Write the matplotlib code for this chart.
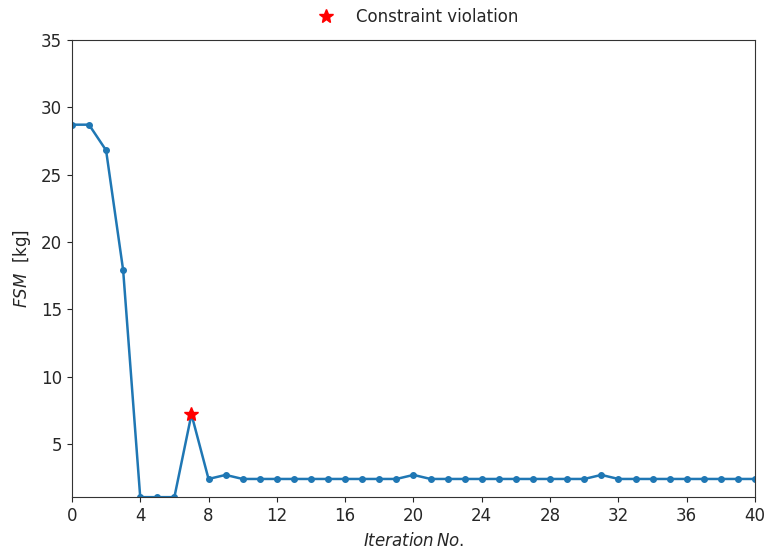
import matplotlib
matplotlib.use("Agg")
import matplotlib.pyplot as plt
import numpy as np

iterations = list(range(41))
fsm = [28.7, 28.7, 26.8, 17.9, 1.05, 1.05, 1.05, 7.2, 2.4, 2.7,
       2.4, 2.4, 2.4, 2.4, 2.4, 2.4, 2.4, 2.4, 2.4, 2.4,
       2.7, 2.4, 2.4, 2.4, 2.4, 2.4, 2.4, 2.4, 2.4, 2.4,
       2.4, 2.7, 2.4, 2.4, 2.4, 2.4, 2.4, 2.4, 2.4, 2.4, 2.4]
violation_iter = [7]
violation_val = [7.2]
xticks = list(range(0, 41, 4))

plt.rcParams['font.size'] = 12
plt.rcParams['text.color'] = '#262626'
plt.rcParams['axes.labelcolor'] = '#262626'
plt.rcParams['xtick.color'] = '#262626'
plt.rcParams['ytick.color'] = '#262626'
plt.rcParams['axes.edgecolor'] = '#333333'

fig = plt.figure(figsize=(7.65, 5.53), dpi=100)
ax = fig.add_axes([0.094, 0.101, 0.893, 0.827])
ax.plot(iterations, fsm, '-o', color='#1f77b4', markersize=4, linewidth=1.8)
ax.plot(violation_iter, violation_val, '*', color='red', markersize=10, linestyle='none',
        label='Constraint violation')
ax.set_xlim(0, 40)
ax.set_ylim(min(fsm), 35)
ax.set_xticks(xticks)
ax.set_yticks([5, 10, 15, 20, 25, 30, 35])
ax.set_xlabel(r'$Iteration\,No.$', labelpad=5)
ax.set_ylabel(r'$FSM$  [kg]', labelpad=6)
ax.legend(loc='lower center', bbox_to_anchor=(0.5, 1.008), frameon=False, fontsize=12,
          borderaxespad=0.2)
fig.savefig('out.png', dpi=100)
